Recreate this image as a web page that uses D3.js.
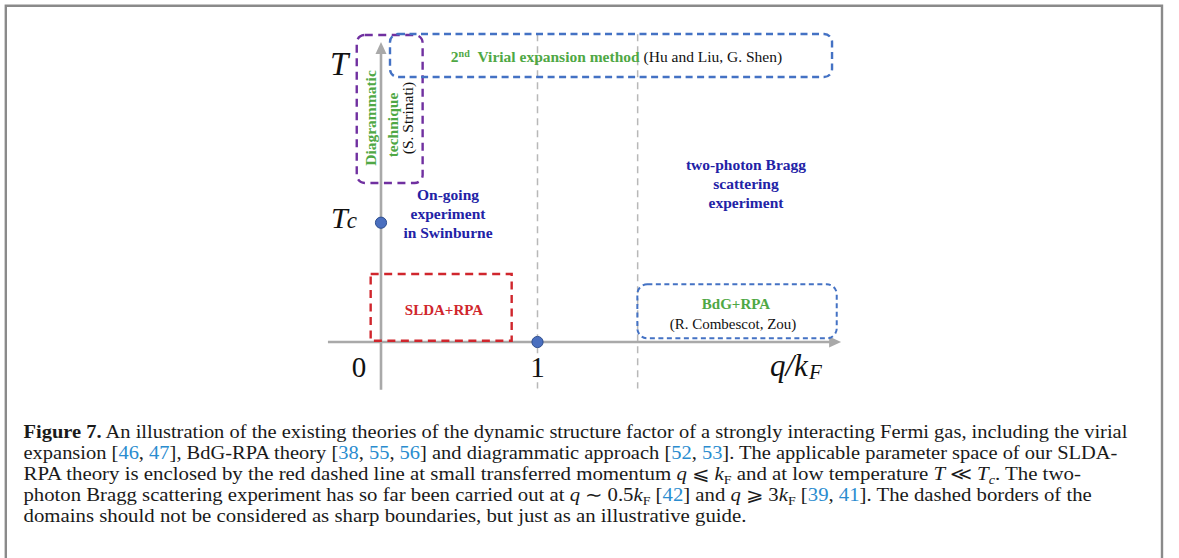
<!DOCTYPE html>
<html><head><meta charset="utf-8">
<script src="https://cdn.jsdelivr.net/npm/d3@7"></script>
<style>body{margin:0;background:#fff} svg{display:block}</style>
</head><body><svg id="c" width="1179" height="558"></svg>
<script>
// ---------- data (in chart units: q/kF horizontally, T/Tc vertically) ----------
const qAxisRange = [-0.339, 2.94];
const tAxisRange = [-0.40, 2.515];
const qTicks = [0, 1];
const qTickLabels = ["0", "1"];
const guideQ = [1, 1.64];
const guideT = [-0.39, 2.58];
const pointQ = [0, 1];
const pointT = [1, 0];

const regionNames = ["diagrammatic", "virial", "slda", "bdg"];
const regionQ0 = [-0.155, 0.0575, -0.066, 1.638];
const regionQ1 = [0.266, 2.882, 0.835, 2.912];
const regionT0 = [1.333, 2.221, 0.011, 0.031];
const regionT1 = [2.573, 2.582, 0.570, 0.484];
const regionColors = ["#7030a0", "#4472c4", "#d0262d", "#4472c4"];
const regionRound = [8, 8, 0, 10];

const onGoingLines = ["On-going", "experiment", "in Swinburne"];
const braggLines = ["two-photon Bragg", "scattering", "experiment"];

const captionLines = [
  [["Figure 7.", "b"], [" An illustration of the existing theories of the dynamic structure factor of a strongly interacting Fermi gas, including the virial", "n"]],
  [["expansion [", "n"], ["46", "l"], [", ", "n"], ["47", "l"], ["], BdG-RPA theory [", "n"], ["38", "l"], [", ", "n"], ["55", "l"], [", ", "n"], ["56", "l"], ["] and diagrammatic approach [", "n"], ["52", "l"], [", ", "n"], ["53", "l"], ["]. The applicable parameter space of our SLDA-", "n"]],
  [["RPA theory is enclosed by the red dashed line at small transferred momentum ", "n"], ["q", "i"], [" \u2A7D ", "n"], ["k", "i"], ["F", "sub"], [" and at low temperature ", "n"], ["T", "i"], [" \u226A ", "n"], ["T", "i"], ["c", "subi"], [". The two-", "n"]],
  [["photon Bragg scattering experiment has so far been carried out at ", "n"], ["q", "i"], [" \u223C 0.5", "n"], ["k", "i"], ["F", "sub"], [" [", "n"], ["42", "l"], ["] and ", "n"], ["q", "i"], [" \u2A7E 3", "n"], ["k", "i"], ["F", "sub"], [" [", "n"], ["39", "l"], [", ", "n"], ["41", "l"], ["]. The dashed borders of the", "n"]],
  [["domains should not be considered as sharp boundaries, but just as an illustrative guide.", "n"]]
];
const captionLineEnds = [1127, 1117, 1082, 1092, 746];

// ---------- drawing ----------
const svg = d3.select("#c");
const serif = "'Liberation Serif','Times New Roman',serif";
const x = d3.scaleLinear().domain([0, 1]).range([381, 537.5]);
const y = d3.scaleLinear().domain([0, 1]).range([342, 222.7]);

// frame
svg.append("path")
  .attr("d", "M5.8,558 V5.8 H1162 V558")
  .attr("fill", "none").attr("stroke", "#8a8a8a").attr("stroke-width", 2.4);

const g = svg.append("g");

// guide dashed lines
g.selectAll("line.guide").data(guideQ).join("line")
  .attr("class", "guide")
  .attr("x1", d => x(d)).attr("x2", d => x(d))
  .attr("y1", y(guideT[1])).attr("y2", y(guideT[0]))
  .attr("stroke", "#b8b8b8").attr("stroke-width", 1.5)
  .attr("stroke-dasharray", "7,5");

// axes
const axisColor = "#a9a9a9";
g.append("line").attr("x1", x(qAxisRange[0])).attr("x2", x(qAxisRange[1]) - 8)
  .attr("y1", y(0)).attr("y2", y(0)).attr("stroke", axisColor).attr("stroke-width", 2.6);
g.append("line").attr("x1", x(0)).attr("x2", x(0))
  .attr("y1", y(tAxisRange[0])).attr("y2", y(tAxisRange[1]) + 8)
  .attr("stroke", axisColor).attr("stroke-width", 2.6);
const hx = x(qAxisRange[1]), hy = y(0);
g.append("path").attr("d", `M${hx},${hy} L${hx - 12},${hy - 5.5} L${hx - 12},${hy + 5.5} Z`).attr("fill", axisColor);
const vx = x(0), vy = y(tAxisRange[1]);
g.append("path").attr("d", `M${vx},${vy} L${vx - 5.5},${vy + 12} L${vx + 5.5},${vy + 12} Z`).attr("fill", axisColor);

// regions
const regions = regionNames.map((n, i) => ({ n, q0: regionQ0[i], q1: regionQ1[i], t0: regionT0[i], t1: regionT1[i], c: regionColors[i], r: regionRound[i] }));
g.selectAll("rect.region").data(regions).join("rect")
  .attr("class", "region")
  .attr("x", d => x(d.q0)).attr("y", d => y(d.t1))
  .attr("width", d => x(d.q1) - x(d.q0)).attr("height", d => y(d.t0) - y(d.t1))
  .attr("rx", d => d.r).attr("ry", d => d.r)
  .attr("fill", "none").attr("stroke", d => d.c)
  .attr("stroke-width", d => d.n === "bdg" ? 2 : 2.4)
  .attr("stroke-dasharray", d => d.n === "bdg" ? "5,3.5" : (d.n === "virial" ? "7,4.5" : "8,5.5"));

// points
g.selectAll("circle.pt").data(pointQ.map((q, i) => ({ q, t: pointT[i] }))).join("circle")
  .attr("class", "pt").attr("cx", d => x(d.q)).attr("cy", d => y(d.t)).attr("r", 5.6)
  .attr("fill", "#4a6fbf").attr("stroke", "#2f4f8f").attr("stroke-width", 1);

// tick labels
g.selectAll("text.tick").data(qTicks).join("text")
  .attr("class", "tick")
  .attr("x", (d, i) => i === 0 ? x(d) - 22 : x(d))
  .attr("y", y(0) + 34.5)
  .attr("text-anchor", "middle").attr("font-family", serif).attr("font-size", 29).attr("fill", "#111")
  .text((d, i) => qTickLabels[i]);

// axis titles
g.append("text").attr("x", 330).attr("y", 75).attr("font-family", serif)
  .attr("font-size", 33).attr("font-style", "italic").attr("fill", "#111").text("T");
const tc = g.append("text").attr("x", 331).attr("y", y(1) + 5.5).attr("font-family", serif).attr("fill", "#111");
tc.append("tspan").attr("font-size", 30).attr("font-style", "italic").text("T");
tc.append("tspan").attr("font-size", 23).attr("font-style", "italic").attr("dx", -1).text("c");
const qk = g.append("text").attr("x", 770).attr("y", 375.5).attr("font-family", serif).attr("fill", "#111");
qk.append("tspan").attr("font-size", 31).attr("font-style", "italic").text("q/k");
qk.append("tspan").attr("font-size", 21).attr("font-style", "italic").attr("dy", 3).attr("dx", 1).text("F");

// text colors
const green = "#4fa845", navy = "#2222a6", red = "#d0262d";

// virial label
const vir = g.append("text").attr("x", 616.5).attr("y", 62).attr("text-anchor", "middle")
  .attr("font-family", serif).attr("font-size", 15.5);
vir.append("tspan").attr("fill", green).attr("font-weight", "bold").text("2");
vir.append("tspan").attr("fill", green).attr("font-weight", "bold").attr("font-size", 10).attr("dy", -5).text("nd");
vir.append("tspan").attr("fill", green).attr("font-weight", "bold").attr("dy", 5).text("\u00A0\u00A0Virial expansion method");
vir.append("tspan").attr("fill", "#111").text(" (Hu and Liu, G. Shen)");

// vertical labels
const vlabels = [
  { t: "Diagrammatic", cx: 370.5, cy: 118, c: green, w: "bold" },
  { t: "technique", cx: 392.5, cy: 125, c: green, w: "bold" },
  { t: "(S. Strinati)", cx: 407.5, cy: 118, c: "#111", w: "normal" }
];
g.selectAll("text.vl").data(vlabels).join("text")
  .attr("class", "vl")
  .attr("transform", d => `translate(${d.cx},${d.cy}) rotate(-90)`)
  .attr("text-anchor", "middle").attr("dy", "0.35em")
  .attr("font-family", serif).attr("font-size", 15.5)
  .attr("font-weight", d => d.w).attr("fill", d => d.c).text(d => d.t);

// multi-line blue labels
function block(lines, cx, cy0, color) {
  g.append("g").selectAll("text").data(lines).join("text")
    .attr("x", cx).attr("y", (d, i) => cy0 + i * 19).attr("dy", "0.35em")
    .attr("text-anchor", "middle").attr("font-family", serif).attr("font-size", 15.5)
    .attr("font-weight", "bold").attr("fill", color).text(d => d);
}
block(onGoingLines, 448, 194.5, navy);
block(braggLines, 746, 165, navy);

// region labels
g.append("text").attr("x", 444).attr("y", 310).attr("dy", "0.35em").attr("text-anchor", "middle")
  .attr("font-family", serif).attr("font-size", 15).attr("font-weight", "bold").attr("fill", red).text("SLDA+RPA");
g.append("text").attr("x", 736).attr("y", 304).attr("dy", "0.35em").attr("text-anchor", "middle")
  .attr("font-family", serif).attr("font-size", 15).attr("font-weight", "bold").attr("fill", green).text("BdG+RPA");
g.append("text").attr("x", 733).attr("y", 324).attr("dy", "0.35em").attr("text-anchor", "middle")
  .attr("font-family", serif).attr("font-size", 15).attr("fill", "#111").text("(R. Combescot, Zou)");

// caption (each line stretched horizontally to the reference line length)
const capX = 23.5, capY0 = 437.5, capDy = 21.1;
captionLines.forEach((segs, li) => {
  const t = svg.append("text").attr("x", 0).attr("y", 0)
    .attr("font-family", serif).attr("font-size", 17.8).attr("fill", "#1a1a1a");
  let shifted = 0;
  segs.forEach(([s, k]) => {
    const sp = t.append("tspan").text(s);
    if (k === "b") sp.attr("font-weight", "bold");
    if (k === "l") sp.attr("fill", "#2a8ccf");
    if (k === "i" || k === "subi") sp.attr("font-style", "italic");
    if (k === "sub" || k === "subi") {
      sp.attr("font-size", 12).attr("dy", 4 - shifted); shifted = 4;
    } else if (shifted) {
      sp.attr("dy", -shifted); shifted = 0;
    }
  });
  const len = t.node().getComputedTextLength();
  const sx = (captionLineEnds[li] - capX) / len;
  t.attr("transform", `translate(${capX},${capY0 + li * capDy}) scale(${sx.toFixed(4)},1)`);
});
</script></body></html>
